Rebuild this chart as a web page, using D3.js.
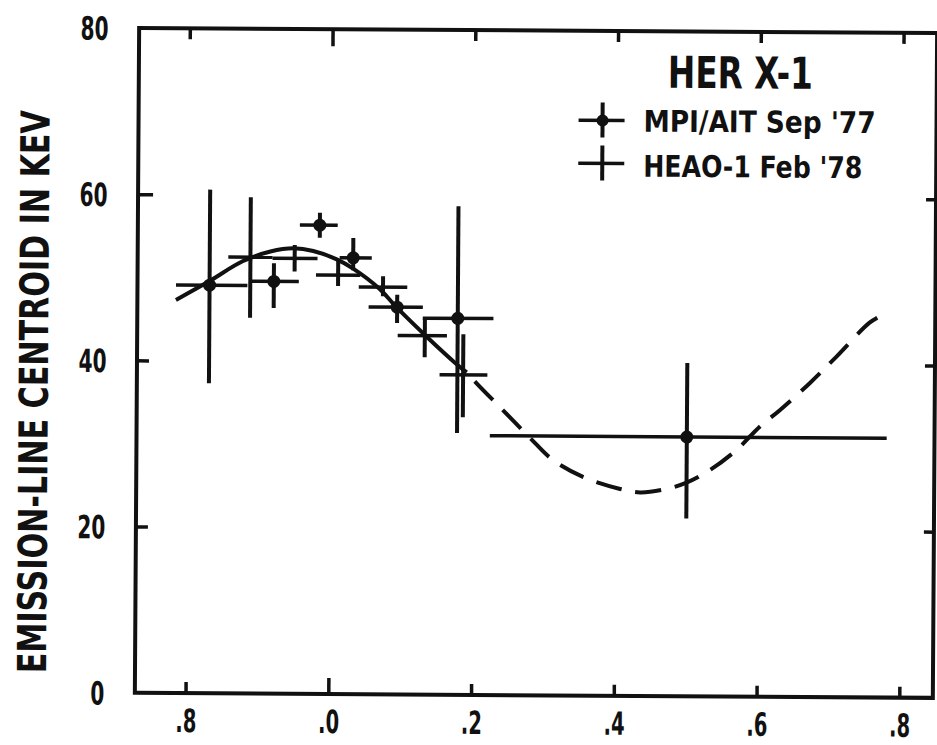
<!DOCTYPE html>
<html>
<head>
<meta charset="utf-8">
<script src="https://cdn.jsdelivr.net/npm/d3@7"></script>
<style>
  html, body { margin: 0; padding: 0; background: #fff; }
  svg text { font-family: "Liberation Sans Narrow", "Arial Narrow", "DejaVu Sans Condensed", sans-serif; font-weight: bold; fill: #111; }
</style>
</head>
<body>
<svg id="chart" width="937" height="745"></svg>
<script>
// Axis ticks
const phaseTicks = [-0.2, 0, 0.2, 0.4, 0.6, 0.8];
const phaseTickLabels = [".8", ".0", ".2", ".4", ".6", ".8"];
const energyTicks = [0, 20, 40, 60, 80];

// MPI/AIT Sep '77 (points with dots)
const mpiPhase   = [-0.170, -0.080, -0.016, 0.031, 0.093, 0.178, 0.500];
const mpiPhaseLo = [-0.217, -0.113, -0.044, 0.012, 0.053, 0.129, 0.224];
const mpiPhaseHi = [-0.117, -0.045,  0.009, 0.057, 0.129, 0.228, 0.780];
const mpiEnergy   = [49.1, 49.6, 56.4, 52.5, 46.6, 45.3, 31.2];
const mpiEnergyLo = [37.3, 46.4, 54.9, 51.0, 44.7, 31.5, 21.4];
const mpiEnergyHi = [60.6, 51.8, 57.9, 54.9, 48.1, 58.8, 40.1];

// HEAO-1 Feb '78 (plain crosses)
const heaoPhase   = [-0.113, -0.051, 0.010, 0.073, 0.132, 0.186];
const heaoPhaseLo = [-0.144, -0.082, -0.021, 0.039, 0.094, 0.153];
const heaoPhaseHi = [-0.082, -0.019, 0.041, 0.107, 0.163, 0.220];
const heaoEnergy   = [52.5, 52.4, 50.4, 49.0, 43.2, 38.5];
const heaoEnergyLo = [45.2, 50.8, 49.1, 47.9, 40.6, 33.4];
const heaoEnergyHi = [59.7, 54.0, 52.2, 50.3, 45.3, 43.4];

// Fitted curve: solid over the data, dashed beyond
const fitSolidPhase  = [-0.217, -0.170, -0.124, -0.085, -0.053, -0.025, 0.008, 0.031, 0.068, 0.092, 0.138, 0.174, 0.191];
const fitSolidEnergy = [47.3, 49.6, 52.0, 53.2, 53.6, 53.3, 52.3, 51.2, 48.8, 46.6, 42.8, 40.0, 38.8];
const fitDashPhase  = [0.191, 0.205, 0.242, 0.280, 0.313, 0.358, 0.407, 0.435, 0.470, 0.500, 0.532, 0.570, 0.602, 0.630, 0.672, 0.709, 0.755, 0.772];
const fitDashEnergy = [38.8, 37.5, 34.3, 31.0, 28.3, 26.2, 24.9, 24.5, 24.9, 25.7, 27.2, 29.7, 32.5, 34.5, 37.8, 41.0, 45.1, 46.0];

const ink = "#111";
const plot = { left: 137, right: 935, top: 30.5, bottom: 695.3 };

const svg = d3.select("#chart");
const g = svg.append("g").attr("transform", "rotate(0.37, 535, 361)");

const x = d3.scaleLinear().domain([-0.271, 0.847]).range([plot.left, plot.right]);
const y = d3.scaleLinear().domain([0, 80]).range([plot.bottom, plot.top]);

// Frame
g.append("rect")
  .attr("x", plot.left).attr("y", plot.top)
  .attr("width", plot.right - plot.left).attr("height", plot.bottom - plot.top)
  .attr("fill", "none").attr("stroke", ink).attr("stroke-width", 4);

function styleAxis(sel) {
  sel.select(".domain").remove();
  sel.selectAll(".tick line").attr("stroke", ink).attr("stroke-width", 3.5);
  sel.selectAll(".tick text").attr("fill", ink).style("font-size", "32px")
    .attr("lengthAdjust", "spacingAndGlyphs");
}

// Bottom axis, ticks pointing inward
const bottomAxis = g.append("g")
  .attr("transform", `translate(0,${plot.bottom})`)
  .call(d3.axisBottom(x).tickValues(phaseTicks)
    .tickFormat((d, i) => phaseTickLabels[i]).tickSizeInner(-11).tickSizeOuter(0))
  .call(styleAxis);
bottomAxis.selectAll(".tick text").attr("y", 39).attr("dy", 0).attr("textLength", 21);
bottomAxis.selectAll(".tick line").filter(d => d === 0).attr("y2", -16);

// Top axis, ticks only
const topAxis = g.append("g")
  .attr("transform", `translate(0,${plot.top})`)
  .call(d3.axisTop(x).tickValues(phaseTicks).tickFormat("").tickSizeInner(-11).tickSizeOuter(0))
  .call(styleAxis);
topAxis.selectAll(".tick line").filter(d => d === 0).attr("y2", 17);

// Left axis
const leftAxis = g.append("g")
  .attr("transform", `translate(${plot.left},0)`)
  .call(d3.axisLeft(y).tickValues(energyTicks).tickFormat(d3.format("d"))
    .tickSizeInner(-12).tickSizeOuter(0))
  .call(styleAxis);
leftAxis.selectAll(".tick line").filter(d => d === 0 || d === 80).remove();
leftAxis.selectAll(".tick line").filter(d => d === 60).attr("x2", 15);
leftAxis.selectAll(".tick text").attr("x", -30.5).attr("dy", "0.36em")
  .attr("textLength", d => d === 0 ? 14 : 28);

// Right axis, ticks only
g.append("g")
  .attr("transform", `translate(${plot.right},0)`)
  .call(d3.axisRight(y).tickValues([20, 40, 60]).tickFormat("").tickSizeInner(-10).tickSizeOuter(0))
  .call(styleAxis);

// Y axis title
g.append("text")
  .attr("transform", "translate(48,395) rotate(-90)")
  .attr("text-anchor", "middle")
  .attr("textLength", 563).attr("lengthAdjust", "spacingAndGlyphs")
  .style("font-size", "40px")
  .text("EMISSION-LINE CENTROID IN KEV");

// Fitted curve
const line = d3.line().x(d => x(d[0])).y(d => y(d[1])).curve(d3.curveCatmullRom.alpha(0.5));
g.append("path")
  .datum(d3.zip(fitSolidPhase, fitSolidEnergy))
  .attr("d", line).attr("fill", "none").attr("stroke", ink).attr("stroke-width", 4);
g.append("path")
  .datum(d3.zip(fitDashPhase, fitDashEnergy))
  .attr("d", line).attr("fill", "none").attr("stroke", ink).attr("stroke-width", 4)
  .attr("stroke-dasharray", "26,14").attr("stroke-dashoffset", 28);

// Error-bar crosses
function crosses(phase, lo, hi, energy, eLo, eHi, withDot) {
  const pts = phase.map((p, i) => ({ p, lo: lo[i], hi: hi[i], e: energy[i], eLo: eLo[i], eHi: eHi[i] }));
  const grp = g.append("g");
  grp.selectAll("line.h").data(pts).join("line")
    .attr("x1", d => x(d.lo)).attr("x2", d => x(d.hi))
    .attr("y1", d => y(d.e)).attr("y2", d => y(d.e))
    .attr("stroke", ink).attr("stroke-width", 3.5);
  grp.selectAll("line.v").data(pts).join("line")
    .attr("x1", d => x(d.p)).attr("x2", d => x(d.p))
    .attr("y1", d => y(d.eLo)).attr("y2", d => y(d.eHi))
    .attr("stroke", ink).attr("stroke-width", 4);
  if (withDot) {
    grp.selectAll("circle").data(pts).join("circle")
      .attr("cx", d => x(d.p)).attr("cy", d => y(d.e)).attr("r", 6.5).attr("fill", ink);
  }
}
crosses(heaoPhase, heaoPhaseLo, heaoPhaseHi, heaoEnergy, heaoEnergyLo, heaoEnergyHi, false);
crosses(mpiPhase, mpiPhaseLo, mpiPhaseHi, mpiEnergy, mpiEnergyLo, mpiEnergyHi, true);

// Legend
const legend = g.append("g");
legend.append("text").attr("x", 666).attr("y", 87)
  .attr("textLength", 145).attr("lengthAdjust", "spacingAndGlyphs")
  .style("font-size", "44px").text("HER X-1");
const legendRows = [
  { label: "MPI/AIT Sep '77", y: 120, base: 131, width: 232, dot: true },
  { label: "HEAO-1 Feb '78", y: 163, base: 176, width: 219, dot: false }
];
legendRows.forEach(r => {
  legend.append("line").attr("x1", 577).attr("x2", 623).attr("y1", r.y).attr("y2", r.y)
    .attr("stroke", ink).attr("stroke-width", 3.5);
  legend.append("line").attr("x1", 601).attr("x2", 601).attr("y1", r.y - 18).attr("y2", r.y + 17)
    .attr("stroke", ink).attr("stroke-width", 4);
  if (r.dot) legend.append("circle").attr("cx", 601).attr("cy", r.y).attr("r", 6).attr("fill", ink);
  legend.append("text").attr("x", 642).attr("y", r.base)
    .attr("textLength", r.width).attr("lengthAdjust", "spacingAndGlyphs")
    .style("font-size", "30px").text(r.label);
});
</script>
</body>
</html>
